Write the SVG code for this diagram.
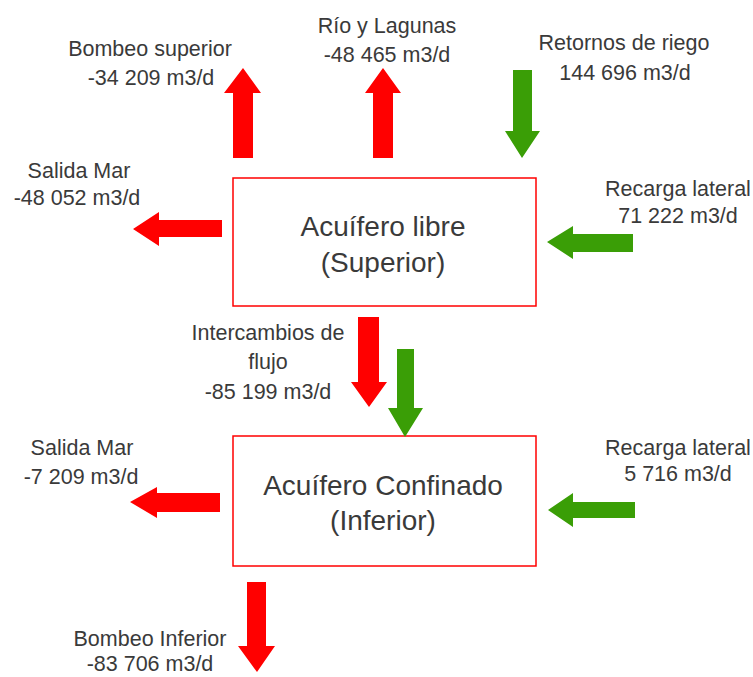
<svg xmlns="http://www.w3.org/2000/svg" width="753" height="677" viewBox="0 0 753 677">
<style>
text{font-family:"Liberation Sans",Arial,sans-serif;fill:#3a3a3a;text-anchor:middle}
.lbl{font-size:21.5px}
.big{font-size:28px}
.box{fill:#fff;stroke:#ff0000;stroke-width:1.5}
.red{fill:#ff0000}
.grn{fill:#3a9e06}
</style>
<rect width="753" height="677" fill="#fff"/>
<g id="acuifero-libre">
<rect class="box" x="233" y="178" width="303" height="128"/>
<text class="big" x="383" y="236">Acuífero libre</text>
<text class="big" x="383" y="272">(Superior)</text>
</g>
<g id="acuifero-confinado">
<rect class="box" x="233" y="436" width="303" height="130"/>
<text class="big" x="383" y="495">Acuífero Confinado</text>
<text class="big" x="383" y="530">(Inferior)</text>
</g>
<g id="connectors">
<polygon class="red" points="233,158 233,93 224,93 243,68 261,93 253,93 253,158"/>
<polygon class="red" points="373,158 373,93 365,93 383,68 401,93 393,93 393,158"/>
<polygon class="grn" points="513,70 532,70 532,131 540,131 522,158 505,131 513,131"/>
<polygon class="red" points="222,220 159,220 159,212 133,229 159,246 159,237 222,237"/>
<polygon class="grn" points="633,234 573,234 573,226 547,242 573,259 573,252 633,252"/>
<polygon class="red" points="358,317 379,317 379,382 387,382 369,407 351,382 358,382"/>
<polygon class="grn" points="397,349 414,349 414,408 423,408 405,437 388,408 397,408"/>
<polygon class="red" points="220,493 157,493 157,487 130,502 157,518 157,512 220,512"/>
<polygon class="grn" points="635,502 573,502 573,493 548,510 573,527 573,518 635,518"/>
<polygon class="red" points="247,582 266,582 266,646 275,646 257,672 238,646 247,646"/>
</g>
<g id="labels">
<text class="lbl" x="150" y="56">Bombeo superior</text>
<text class="lbl" x="151" y="85">-34 209 m3/d</text>
<text class="lbl" x="387" y="33">Río y Lagunas</text>
<text class="lbl" x="387" y="62">-48 465 m3/d</text>
<text class="lbl" x="624" y="50">Retornos de riego</text>
<text class="lbl" x="625" y="80">144 696 m3/d</text>
<text class="lbl" x="79" y="178">Salida Mar</text>
<text class="lbl" x="77" y="205">-48 052 m3/d</text>
<text class="lbl" x="678" y="196">Recarga lateral</text>
<text class="lbl" x="678" y="223">71 222 m3/d</text>
<text class="lbl" x="268" y="340">Intercambios de</text>
<text class="lbl" x="268" y="369">flujo</text>
<text class="lbl" x="268" y="399">-85 199 m3/d</text>
<text class="lbl" x="82" y="455">Salida Mar</text>
<text class="lbl" x="81" y="484">-7 209 m3/d</text>
<text class="lbl" x="678" y="455">Recarga lateral</text>
<text class="lbl" x="678" y="481">5 716 m3/d</text>
<text class="lbl" x="150" y="646">Bombeo Inferior</text>
<text class="lbl" x="150" y="671">-83 706 m3/d</text>
</g>
</svg>
